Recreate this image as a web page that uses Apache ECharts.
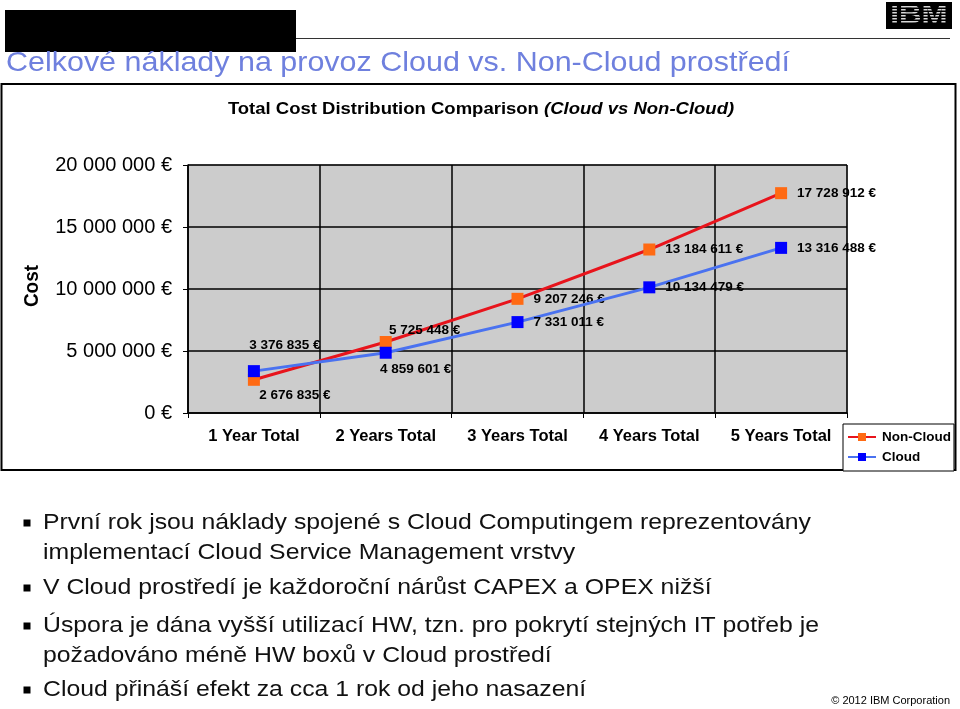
<!DOCTYPE html>
<html>
<head>
<meta charset="utf-8">
<script src="https://cdn.jsdelivr.net/npm/echarts@6/dist/echarts.min.js"></script>
<style>
html,body{margin:0;padding:0;background:#fff;}
#main{width:960px;height:709px;}
</style>
</head>
<body>
<div id="main"></div>
<script>
// ---- data ----
var categories = ['1 Year Total', '2 Years Total', '3 Years Total', '4 Years Total', '5 Years Total'];
var nonCloud = [2676835, 5725448, 9207246, 13184611, 17728912];
var cloud = [3376835, 4859601, 7331011, 10134479, 13316488];
var yMin = 0, yMax = 20000000, yStep = 5000000;
var slideTitle = 'Celkové náklady na provoz Cloud vs. Non-Cloud prostředí';
var chartTitleMain = 'Total Cost Distribution Comparison ';
var chartTitleItalic = '(Cloud vs Non-Cloud)';
var yAxisTitle = 'Cost';
var bulletLines = [
  {text: 'První rok jsou náklady spojené s Cloud Computingem reprezentovány', bullet: true},
  {text: 'implementací Cloud Service Management vrstvy', bullet: false},
  {text: 'V Cloud prostředí je každoroční nárůst CAPEX a OPEX nižší', bullet: true},
  {text: 'Úspora je dána vyšší utilizací HW, tzn. pro pokrytí stejných IT potřeb je', bullet: true},
  {text: 'požadováno méně HW boxů v Cloud prostředí', bullet: false},
  {text: 'Cloud přináší efekt za cca 1 rok od jeho nasazení', bullet: true}
];
var copyright = '© 2012 IBM Corporation';

// ---- presentation ----
var FONT = 'Liberation Sans, Arial, sans-serif';
var SX = 1.088; // horizontal stretch of the original slide
function fmt(v) {
  return String(Math.round(v)).replace(/\B(?=(\d{3})+(?!\d))/g, ' ') + ' €';
}
var nonCloudLabelPos = [
  {position: 'inside', offset: [41, 15]},
  {position: 'inside', offset: [39, -12]},
  {position: 'right', distance: 10},
  {position: 'right', distance: 10},
  {position: 'right', distance: 10}
];
var cloudLabelPos = [
  {position: 'inside', offset: [31, -26]},
  {position: 'inside', offset: [30, 17]},
  {position: 'right', distance: 10},
  {position: 'right', distance: 10},
  {position: 'right', distance: 10}
];
function buildData(vals, pos) {
  return vals.map(function (v, i) {
    return {value: v, label: pos[i]};
  });
}
var labelBase = {
  show: true, color: '#000', fontFamily: FONT, fontWeight: 'bold', fontSize: 13.5,
  formatter: function (p) { return fmt(p.value); }
};

var bulletY = [523, 553, 588, 626, 656, 690];
var graphics = [
  {type: 'rect', shape: {x: 5, y: 10, width: 291, height: 42}, style: {fill: '#000'}},
  {type: 'line', shape: {x1: 296, y1: 38.5, x2: 950, y2: 38.5}, style: {stroke: '#333', lineWidth: 1}},
  {type: 'rect', shape: {x: 886, y: 2, width: 66, height: 27}, style: {fill: '#000'}},
  {type: 'text', x: 919, y: 16, scaleX: 1.25, style: {text: 'IBM', font: 'bold 25px ' + FONT, fill: '#d8d8d8', align: 'center', verticalAlign: 'middle'}}
];
for (var s = 0; s < 8; s++) {
  graphics.push({type: 'line', shape: {x1: 886, y1: 5.2 + s * 3, x2: 952, y2: 5.2 + s * 3}, style: {stroke: '#000', lineWidth: 1.4}});
}
graphics = graphics.concat([
  {type: 'text', x: 6, y: 63, scaleX: SX, style: {text: slideTitle, font: '28px ' + FONT, fill: '#6f80de', align: 'left', verticalAlign: 'middle'}},
  {type: 'rect', shape: {x: 1.5, y: 84, width: 954, height: 386}, style: {fill: 'none', stroke: '#000', lineWidth: 2}, z: 0},
  {type: 'text', x: 481, y: 109, scaleX: SX, style: {
    text: '{b|' + chartTitleMain + '}{i|' + chartTitleItalic + '}',
    align: 'center', verticalAlign: 'middle',
    rich: {
      b: {fontFamily: FONT, fontWeight: 'bold', fontSize: 17, fill: '#000'},
      i: {fontFamily: FONT, fontWeight: 'bold', fontStyle: 'italic', fontSize: 17, fill: '#000'}
    }
  }},
  {type: 'text', x: 32, y: 286, rotation: Math.PI / 2, scaleY: SX, style: {text: yAxisTitle, font: 'bold 19px ' + FONT, fill: '#000', align: 'center', verticalAlign: 'middle'}},
  {type: 'text', x: 950, y: 701, style: {text: copyright, font: '11px ' + FONT, fill: '#000', align: 'right', verticalAlign: 'middle'}}
]);
bulletLines.forEach(function (b, i) {
  if (b.bullet) {
    graphics.push({type: 'rect', shape: {x: 23.5, y: bulletY[i] - 3.5, width: 7, height: 7}, style: {fill: '#000'}});
  }
  graphics.push({type: 'text', x: 43, y: bulletY[i], scaleX: SX, style: {text: b.text, font: '22.8px ' + FONT, fill: '#111', align: 'left', verticalAlign: 'middle'}});
});

var chart = echarts.init(document.getElementById('main'), null, {renderer: 'canvas'});
chart.setOption({
  backgroundColor: '#fff',
  animation: false,
  textStyle: {fontFamily: FONT},
  graphic: graphics,
  grid: {
    left: 188, right: 113, top: 165, bottom: 296,
    show: true, backgroundColor: '#cccccc', borderColor: '#808080', borderWidth: 1
  },
  legend: {
    orient: 'vertical', left: 843, top: 424,
    data: ['Non-Cloud', 'Cloud'],
    itemWidth: 28, itemHeight: 10, itemGap: 6,
    padding: [6, 3, 7, 4],
    backgroundColor: '#fff', borderColor: '#000', borderWidth: 1,
    textStyle: {fontFamily: FONT, fontWeight: 'bold', fontSize: 13.5, color: '#000', padding: [0, 0, 0, 1]}
  },
  xAxis: {
    type: 'category', data: categories, boundaryGap: true,
    axisLine: {lineStyle: {color: '#000', width: 1.5}},
    axisTick: {show: true, length: 5, interval: 0, lineStyle: {color: '#000'}},
    axisLabel: {color: '#000', fontWeight: 'bold', fontSize: 16.5, margin: 15, interval: 0, fontFamily: FONT},
    splitLine: {show: true, interval: 0, lineStyle: {color: '#000', width: 1.5}}
  },
  yAxis: {
    type: 'value', min: yMin, max: yMax, interval: yStep,
    axisLine: {show: true, lineStyle: {color: '#000', width: 1.5}},
    axisTick: {show: true, length: 5, lineStyle: {color: '#000'}},
    axisLabel: {color: '#000', fontSize: 20, margin: 16, fontFamily: FONT, formatter: fmt},
    splitLine: {show: true, lineStyle: {color: '#000', width: 1.5}}
  },
  series: [
    {
      name: 'Non-Cloud', type: 'line', data: buildData(nonCloud, nonCloudLabelPos),
      symbol: 'rect', symbolSize: 12,
      lineStyle: {color: '#e8141c', width: 3},
      itemStyle: {color: '#ff6a13'},
      label: labelBase, z: 3
    },
    {
      name: 'Cloud', type: 'line', data: buildData(cloud, cloudLabelPos),
      symbol: 'rect', symbolSize: 12,
      lineStyle: {color: '#4a72f0', width: 3},
      itemStyle: {color: '#0000ff'},
      label: labelBase, z: 4
    }
  ]
});
</script>
</body>
</html>
